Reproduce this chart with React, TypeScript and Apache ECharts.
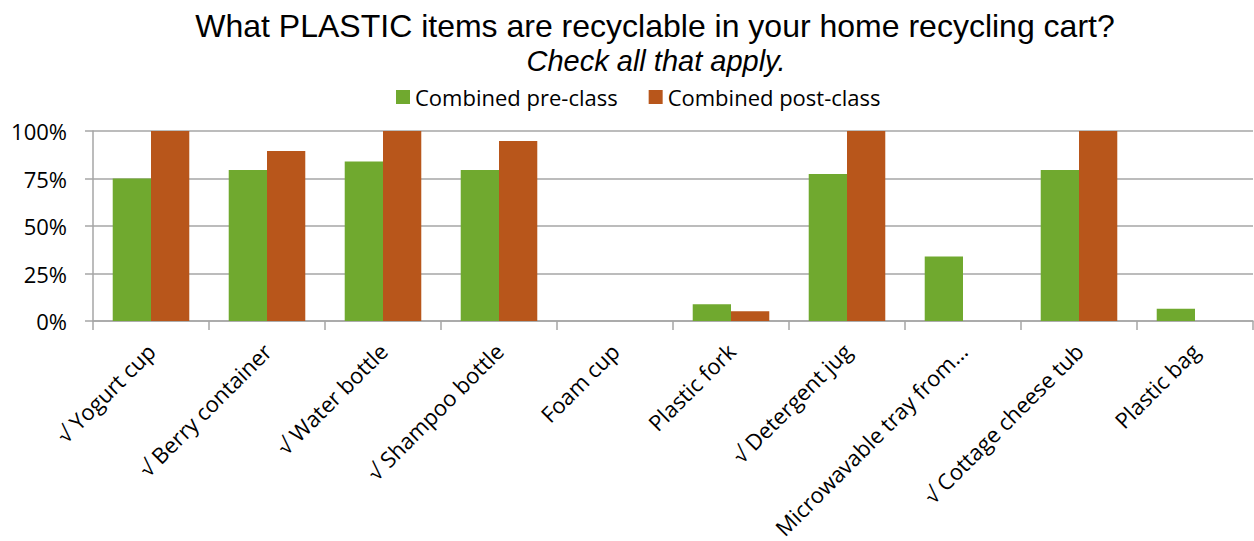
import React, { useEffect, useRef } from "react";
import * as echarts from "echarts";

const categories = [
  "√ Yogurt cup",
  "√ Berry container",
  "√ Water bottle",
  "√ Shampoo bottle",
  "Foam cup",
  "Plastic fork",
  "√ Detergent jug",
  "Microwavable tray from...",
  "√ Cottage cheese tub",
  "Plastic bag",
];
const preClass = [75, 79.5, 84, 79.5, 0, 8.8, 77.4, 34, 79.5, 6.5];
const postClass = [100, 89.5, 100, 94.7, 0, 5.1, 100, 0, 100, 0];
const yTicks = [0, 25, 50, 75, 100];

const LABEL_FONT = "'Open Sans', 'Noto Sans', sans-serif";

export default function App() {
  const ref = useRef<HTMLDivElement>(null);
  useEffect(() => {
    document.body.style.margin = "0";
    const chart = echarts.init(ref.current!, null, { renderer: "svg" });
    chart.setOption({
      animation: false,
      backgroundColor: "#ffffff",
      title: [
        {
          text: "What PLASTIC items are recyclable in your home recycling cart?",
          left: 650,
          top: 5,
          textAlign: "center",
          textStyle: {
            fontFamily: "'Liberation Sans', Arial, sans-serif",
            fontSize: 32,
            fontWeight: "normal",
            color: "#000",
          },
        },
        {
          text: "Check all that apply.",
          left: 651,
          top: 41,
          textAlign: "center",
          textStyle: {
            fontFamily: "'Liberation Sans', Arial, sans-serif",
            fontSize: 29,
            fontStyle: "italic",
            fontWeight: "normal",
            color: "#000",
          },
        },
      ],
      legend: {
        top: 81,
        left: 391,
        itemWidth: 14,
        itemHeight: 14,
        itemGap: 31,
        icon: "rect",
        textStyle: { fontFamily: LABEL_FONT, fontSize: 22, color: "#000" },
        data: ["Combined pre-class", "Combined post-class"],
      },
      grid: {
        left: 93,
        right: 1,
        top: 131,
        bottom: 220,
        containLabel: false,
        outerBoundsMode: "none",
      },
      xAxis: {
        type: "category",
        data: categories,
        axisLine: { show: true, lineStyle: { color: "#A6A6A6", width: 1.5 } },
        axisTick: { show: true, length: 9, lineStyle: { color: "#A6A6A6", width: 1.5 } },
        axisLabel: {
          rotate: 45,
          interval: 0,
          margin: 26,
          fontFamily: LABEL_FONT,
          fontSize: 22,
          color: "#000",
        },
      },
      yAxis: {
        type: "value",
        min: 0,
        max: 100,
        interval: 25,
        axisLine: { show: true, lineStyle: { color: "#A6A6A6", width: 1.5 } },
        axisTick: { show: true, length: 8, lineStyle: { color: "#A6A6A6", width: 1.5 } },
        splitLine: { show: true, lineStyle: { color: "#A6A6A6", width: 1.5 } },
        axisLabel: {
          margin: 26,
          fontFamily: LABEL_FONT,
          fontSize: 22,
          color: "#000",
          formatter: (v: number) => (yTicks.includes(v) ? v + "%" : ""),
        },
      },
      series: [
        {
          name: "Combined pre-class",
          type: "bar",
          data: preClass,
          barGap: "0%",
          barCategoryGap: "34%",
          itemStyle: { color: "#70A92F" },
        },
        {
          name: "Combined post-class",
          type: "bar",
          data: postClass,
          barGap: "0%",
          barCategoryGap: "34%",
          itemStyle: { color: "#B8561B" },
        },
      ],
    });
    return () => chart.dispose();
  }, []);
  return (
    <div
      ref={ref}
      style={{ position: "absolute", left: 0, top: 0, width: 1254, height: 541 }}
    />
  );
}
